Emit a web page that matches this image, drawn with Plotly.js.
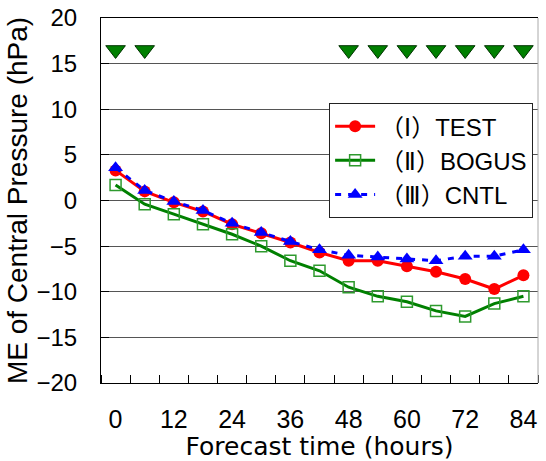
<!DOCTYPE html>
<html><head><meta charset="utf-8">
<script src="https://cdn.plot.ly/plotly-3.0.1.min.js"></script>
<style>html,body{margin:0;padding:0;background:#fff}</style>
</head><body><div id="chart" style="width:546px;height:461px"></div>
<script>
const hours = [0,6,12,18,24,30,36,42,48,54,60,66,72,78,84];
const testME = [3.3,1.0,-0.2,-1.2,-2.6,-3.6,-4.6,-5.7,-6.6,-6.6,-7.2,-7.8,-8.6,-9.7,-8.2];
const bogusME = [1.7,-0.4,-1.5,-2.6,-3.7,-5.0,-6.6,-7.7,-9.5,-10.5,-11.1,-12.1,-12.7,-11.3,-10.5];
const cntlME = [3.6,1.1,-0.1,-1.1,-2.5,-3.5,-4.5,-5.4,-6.0,-6.2,-6.4,-6.6,-6.1,-6.1,-5.4];
const sigHours = [0,6,48,54,60,66,72,78,84];
const sigLevel = [16.5,16.5,16.5,16.5,16.5,16.5,16.5,16.5,16.5];
const xTickVals = [0,12,24,36,48,60,72,84];
const yTickVals = [-20,-15,-10,-5,0,5,10,15,20];
const seriesNames = ['（Ⅰ）TEST','（Ⅱ）BOGUS','（Ⅲ）CNTL'];

const SANS = '"Liberation Sans", Arial, sans-serif';
const GOTH = '"DejaVu Sans", sans-serif';
const LEG = '"Liberation Sans", "DejaVu Sans", "Noto Sans CJK JP", sans-serif';

const traces = [
  {x: sigHours, y: sigLevel, type:'scatter', mode:'markers', showlegend:false,
   marker:{symbol:'triangle-down', size:17, color:'#008000', line:{color:'#003300', width:1}}},
  {x: hours, y: testME, name: seriesNames[0], type:'scatter', mode:'lines+markers',
   line:{color:'#ff0000', width:3}, marker:{symbol:'circle', size:12, color:'#ff0000'}},
  {x: hours, y: bogusME, name: seriesNames[1], type:'scatter', mode:'lines+markers',
   line:{color:'#008000', width:3}, marker:{symbol:'square-open', size:11, color:'#2e9a2e', line:{width:1.5}}},
  {x: hours, y: cntlME, name: seriesNames[2], type:'scatter', mode:'lines+markers',
   line:{color:'#0000ff', width:3, dash:'6px,7px'}, marker:{symbol:'triangle-up', size:13, color:'#0000ff'}}
];

const layout = {
  width:546, height:461,
  margin:{l:101, r:8, t:18, b:78},
  paper_bgcolor:'#ffffff', plot_bgcolor:'#ffffff',
  font:{family:SANS, size:24, color:'#000'},
  showlegend:true,
  legend:{x:0.522, y:0.767, xanchor:'left', yanchor:'top', bgcolor:'#ffffff',
          bordercolor:'#222', borderwidth:1, font:{family:LEG, size:24}, itemwidth:40, tracegroupgap:0},
  xaxis:{range:[-3,87], tickvals:xTickVals, ticks:'', showgrid:false, zeroline:false,
         showline:true, linecolor:'#000', linewidth:1, mirror:true, ticklabelstandoff:14,
         tickfont:{family:SANS, size:25},
         minor:{ticks:'inside', tick0:-3, dtick:6, ticklen:8, tickcolor:'#000', showgrid:false},
         title:{text:'Forecast time (hours)', font:{family:GOTH, size:25}, standoff:9}},
  yaxis:{range:[-20,20], tickvals:yTickVals, ticks:'inside', ticklen:8, tickcolor:'#000',
         showgrid:true, gridcolor:'#555', gridwidth:1, zeroline:false,
         showline:true, linecolor:'#000', linewidth:1, ticklabelstandoff:18, ticklabeloverflow:'allow',
         tickfont:{family:SANS, size:24},
         title:{text:'ME of Central Pressure (hPa)', font:{family:SANS, size:28}, standoff:0}},
  shapes:[{type:'line', xref:'paper', yref:'paper', x0:1, x1:1, y0:0, y1:1, line:{color:'#aaaaaa', width:1}}]
};

Plotly.newPlot('chart', traces, layout, {displayModeBar:false, staticPlot:true});
</script></body></html>
